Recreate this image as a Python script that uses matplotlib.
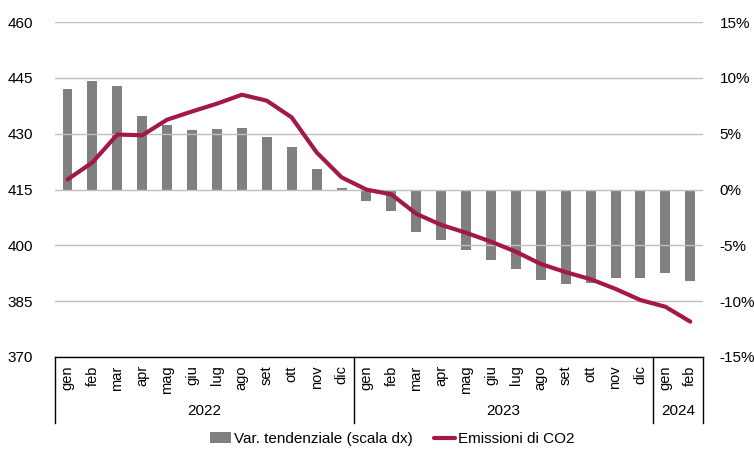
import numpy as np
import matplotlib.pyplot as plt
from matplotlib.transforms import blended_transform_factory

plt.rcParams["font.family"] = ["Liberation Sans", "DejaVu Sans"]

months = ["gen", "feb", "mar", "apr", "mag", "giu", "lug", "ago", "set", "ott", "nov", "dic",
          "gen", "feb", "mar", "apr", "mag", "giu", "lug", "ago", "set", "ott", "nov", "dic",
          "gen", "feb"]
years = ["2022", "2023", "2024"]
year_counts = [12, 12, 2]

# Emissioni di CO2 (scala sx)
emissioni = [417.7, 422.3, 429.8, 429.6, 433.8, 436.0, 438.1, 440.5, 438.9, 434.4, 425.0, 418.3,
             415.0, 413.7, 408.5, 405.5, 403.4, 401.0, 398.3, 395.0, 392.8, 390.9, 388.3, 385.3,
             383.5, 379.5]
# Var. tendenziale % (scala dx)
var_tend = [9.0, 9.7, 9.3, 6.6, 5.8, 5.3, 5.4, 5.5, 4.7, 3.8, 1.85, 0.15,
            -1.0, -1.9, -3.8, -4.5, -5.4, -6.3, -7.1, -8.1, -8.5, -8.4, -7.9, -7.9,
            -7.5, -8.2]

line_col = "#A3174A"
bar_col = "#808080"

fig = plt.figure(figsize=(7.54, 4.53), dpi=100)
ax = fig.add_axes([0.073, 0.212, 0.859, 0.739])
ax2 = ax.twinx()

x = np.arange(len(months))
bars = ax2.bar(x, var_tend, width=0.4, color=bar_col, label="Var. tendenziale (scala dx)")
line, = ax.plot(x, emissioni, color=line_col, linewidth=3, label="Emissioni di CO2",
                solid_capstyle="round")

ax.set_zorder(ax2.get_zorder() + 1)
ax.patch.set_visible(False)

ax.set_xlim(-0.5, len(months) - 0.5)
ax.set_ylim(370, 460)
ax.set_yticks(np.arange(370, 461, 15))
ax2.set_ylim(-15, 15)
ax2.set_yticks(np.arange(-15, 16, 5))
ax2.set_yticklabels([f"{v}%" for v in range(-15, 16, 5)])

ax.grid(axis="y", color="#BFBFBF", linewidth=1)
ax.set_axisbelow(True)
for a in (ax, ax2):
    for s in ["top", "left", "right", "bottom"]:
        a.spines[s].set_visible(False)
ax.axhline(370, color="black", linewidth=1, clip_on=False)

ax.tick_params(axis="y", length=0, labelsize=11, pad=16)
ax2.tick_params(axis="y", length=0, labelsize=11, pad=12)
ax.set_xticks(x)
ax.set_xticklabels(months, rotation=90, fontsize=10.5)
ax.tick_params(axis="x", length=0, pad=6)

# year group labels and separators
trans = blended_transform_factory(ax.transData, ax.transAxes)
start = 0
bounds = [-0.5]
for yr, n in zip(years, year_counts):
    ax.text(start + (n - 1) / 2, -0.16, yr, transform=trans, ha="center", va="center", fontsize=11)
    start += n
    bounds.append(start - 0.5)
for b in bounds:
    ax.plot([b, b], [0, -0.197], transform=trans, color="black", linewidth=1, clip_on=False)

fig.legend(handles=[bars, line], loc="lower center", bbox_to_anchor=(0.52, -0.015), ncol=2,
           frameon=False, fontsize=11, handlelength=1.4, handletextpad=0.15, columnspacing=1.4)

fig.savefig("out.png", dpi=100)
